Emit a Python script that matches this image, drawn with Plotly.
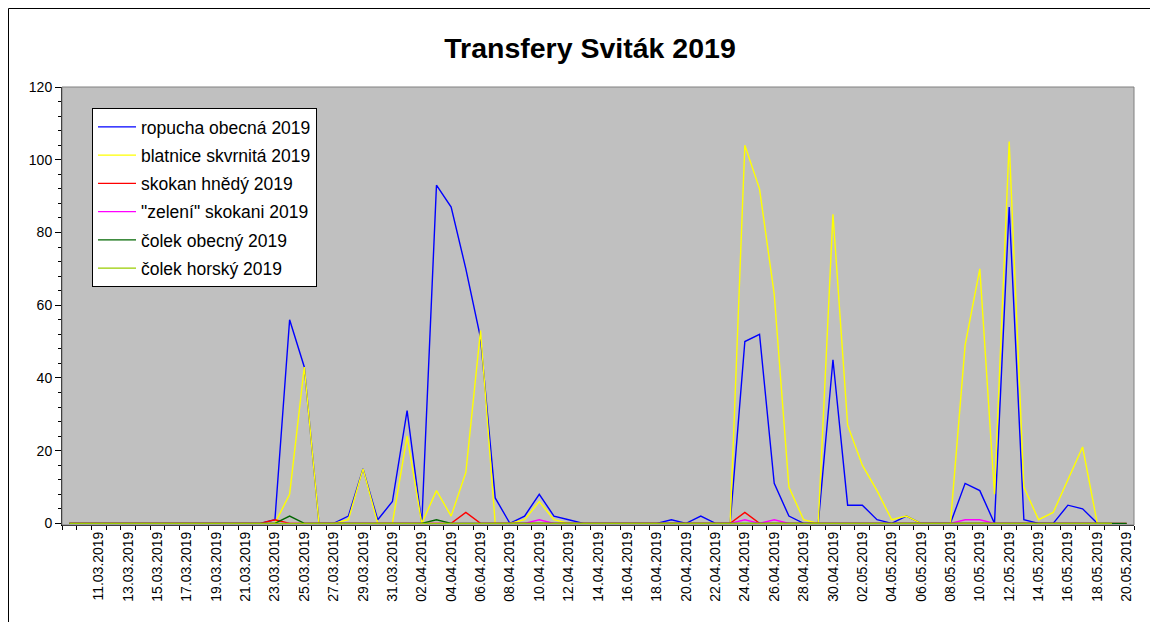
import pandas as pd
import plotly.graph_objects as go

# Categories: one per day, 09.03.2019 - 20.05.2019
dates = pd.date_range("2019-03-09", "2019-05-20", freq="D")
label_dates = pd.date_range("2019-03-11", "2019-05-20", freq="2D")
tick_labels = [d.strftime("%d.%m.%Y") for d in label_dates]

N = None
# ropucha obecná 2019
ropucha = (
    [0] * 14 + [1, 56, 43, 0, 0, 2, 15, 1, 6]                       # 09.03 - 31.03
    + [31, 0, 93, 87, 70, 51, 7, 0, 2, 8, 2, 1, 0, 0, 0,
       0, 0, 0, 1, 0, 2, 0, 0, 50, 52, 11, 2, 0, 0, 45]              # April
    + [5, 5, 1, 0, 2, 0, 0, 0, 11, 9, 0, 87, 1, 0, 0, 5, 4, 0, N, N]  # May
)
# blatnice skvrnitá 2019
blatnice = (
    [0] * 14 + [0, 8, 43, 0, 0, 1, 15, 0, 0]
    + [24, 0, 9, 2, 14, 53, 0, 0, 1, 6, 1, 0, 0, 0, 0,
       0, 0, 0, 0, 0, 0, 0, 0, 104, 92, 63, 10, 1, 0, 85]
    + [27, 16, 9, 1, 2, 0, 0, 0, 49, 70, 8, 105, 10, 1, 3, 12, 21, 0, N, N]
)
# skokan hnědý 2019
skokan = (
    [0] * 14 + [1, 0, 0, 0, 0, 0, 0, 0, 0]
    + [0, 0, 0, 0, 3, 0, 0, 0, 0, 0, 0, 0, 0, 0, 0,
       0, 0, 0, 0, 0, 0, 0, 0, 3, 0, 0, 0, 0, 0, 0]
    + [0] * 20
)
# "zelení" skokani 2019
zeleni = (
    [0] * 23
    + [0, 0, 0, 0, 0, 0, 0, 0, 0, 1, 0, 0, 0, 0, 0,
       0, 0, 0, 0, 0, 0, 0, 0, 1, 0, 1, 0, 0, 0, 0]
    + [0, 0, 0, 0, 0, 0, 0, 0, 1, 1, 0, 0, 0, 0, 0, 0, 0, 0, N, N]
)
# čolek obecný 2019
colek_obecny = (
    [0] * 14 + [0, 2, 0, 0, 0, 0, 0, 0, 0]
    + [0, 0, 1, 0, 0, 0, 0, 0, 0, 0, 0, 0, 0, 0, 0,
       0, 0, 0, 0, 0, 0, 0, 0, 0, 0, 0, 0, 0, 0, 0]
    + [0] * 20
)
# čolek horský 2019
colek_horsky = [0] * 23 + [0] * 30 + [0] * 19 + [N]

series = [
    ("ropucha obecná 2019", ropucha, "#0000FF"),
    ("blatnice skvrnitá 2019", blatnice, "#FFFF00"),
    ("skokan hnědý 2019", skokan, "#FF0000"),
    ("\"zelení\" skokani 2019", zeleni, "#FF00FF"),
    ("čolek obecný 2019", colek_obecny, "#006600"),
    ("čolek horský 2019", colek_horsky, "#99CC00"),
]

FONT = "Liberation Sans, Arial, sans-serif"
OFF = 8  # page offset of the figure (default body margin)
W, H = 1158 - OFF, 622 - OFF
# plot area in page pixels: left 62, right 1134, top 87, bottom 525
ML = 62 - OFF
MR = 1158 - 1134
MT = 87 - OFF
MB = 622 - 525
PW, PH = W - ML - MR, H - MT - MB


def px_x(p):  # page pixel -> paper x
    return (p - OFF - ML) / PW


def px_y(p):  # page pixel -> paper y
    return (H - MB - (p - OFF)) / PH


fig = go.Figure()
for i, (name, vals, col) in enumerate(series):
    fig.add_trace(go.Scatter(
        x=dates, y=vals, name=name, mode="lines",
        line=dict(color=col, width=1.4), legendgroup=f"g{i}",
        connectgaps=False,
    ))

fig.update_layout(
    width=W, height=H,
    margin=dict(l=ML, r=MR, t=MT, b=MB),
    paper_bgcolor="white",
    plot_bgcolor="#C0C0C0",
    font=dict(family=FONT, size=14, color="black"),
    title=dict(text="<b>Transfery Sviták 2019</b>", x=(590 - OFF) / W, xref="container",
               y=1 - (48 - OFF) / H, yref="container", xanchor="center", yanchor="middle",
               font=dict(size=28.5, family=FONT, color="black")),
    showlegend=True,
    legend=dict(x=px_x(92), y=px_y(108), xanchor="left", yanchor="top",
                bgcolor="white", bordercolor="black", borderwidth=1,
                font=dict(size=17.5, family=FONT), itemwidth=38,
                tracegroupgap=2.5),
    xaxis=dict(
        range=["2019-03-08 12:00", "2019-05-20 12:00"],
        tickmode="array", tickvals=list(label_dates), ticktext=tick_labels,
        tickangle=-90, ticks="", showgrid=False, zeroline=False,
        showline=True, linecolor="black", linewidth=1,
        tickfont=dict(size=14),
        minor=dict(tick0="2019-03-08 12:00", dtick=86400000, ticks="outside",
                   ticklen=4, tickcolor="black", showgrid=False),
    ),
    yaxis=dict(
        range=[-0.45, 120], tickmode="array", tickvals=[0, 20, 40, 60, 80, 100, 120],
        ticks="outside", ticklen=6, tickcolor="black", showgrid=False,
        zeroline=False, showline=True, linecolor="black", linewidth=1,
        tickfont=dict(size=14),
        minor=dict(tick0=0, dtick=4, ticks="outside", ticklen=3,
                   tickcolor="black", showgrid=False),
    ),
    shapes=[
        dict(type="rect", xref="paper", yref="paper", x0=0, x1=1, y0=0, y1=1,
             line=dict(color="#808080", width=1), layer="above"),
        dict(type="rect", xref="paper", yref="paper",
             x0=px_x(8.5), x1=px_x(1175), y0=px_y(640), y1=px_y(8.5),
             line=dict(color="black", width=1), layer="above"),
    ],
)

fig.write_html("out.html")
